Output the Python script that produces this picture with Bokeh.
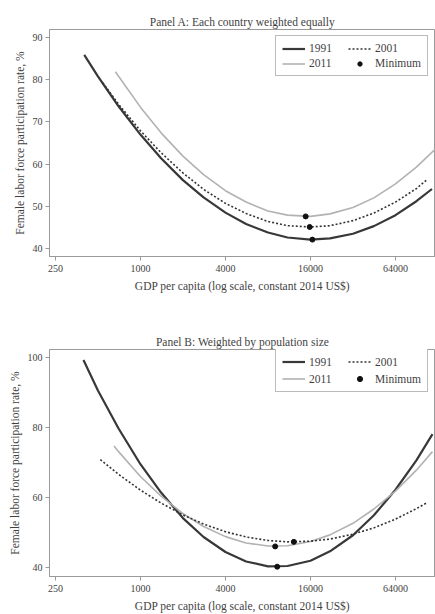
from bokeh.plotting import figure
from bokeh.layouts import column
from bokeh.models import (FixedTicker, CustomJSTickFormatter, Legend, LegendItem, Range1d)
from bokeh.embed import file_html
from bokeh.resources import INLINE

# ---------------- data ----------------
x_ticks = [250, 1000, 4000, 16000, 64000]
ya_ticks = [40, 50, 60, 70, 80, 90]
yb_ticks = [40, 60, 80, 100]

# Panel A: each country weighted equally
a_1991_x = [400, 500, 700, 1000, 1400, 2000, 2800, 4000, 5600, 8000, 11000, 16000, 22000, 32000, 45000, 64000, 90000, 116000]
a_1991_y = [85.9, 80.8, 73.7, 67.0, 61.4, 56.2, 52.1, 48.5, 45.8, 43.8, 42.6, 42.1, 42.4, 43.5, 45.3, 47.9, 51.2, 54.1]
a_2001_x = [540, 700, 1000, 1400, 2000, 2800, 4000, 5600, 8000, 11000, 16000, 22000, 32000, 45000, 64000, 90000, 107000]
a_2001_y = [79.3, 74.2, 67.9, 62.7, 57.9, 54.0, 50.7, 48.3, 46.4, 45.4, 45.1, 45.4, 46.6, 48.4, 51.0, 54.2, 56.3]
a_2011_x = [665, 700, 1000, 1400, 2000, 2800, 4000, 5600, 8000, 11000, 16000, 22000, 32000, 45000, 64000, 90000, 122000]
a_2011_y = [81.9, 80.8, 73.5, 67.4, 61.9, 57.5, 53.7, 51.0, 48.9, 47.9, 47.6, 48.2, 49.7, 52.0, 55.3, 59.3, 63.5]
a_min_x = [16500, 15800, 14800]
a_min_y = [42.1, 45.1, 47.6]

# Panel B: weighted by population size
b_1991_x = [395, 500, 700, 1000, 1400, 2000, 2800, 4000, 5600, 8000, 11000, 16000, 22000, 32000, 45000, 64000, 90000, 117000]
b_1991_y = [99.2, 90.5, 79.6, 69.4, 61.3, 54.0, 48.6, 44.3, 41.6, 40.2, 40.3, 41.8, 44.5, 49.1, 54.8, 62.1, 70.5, 78.0]
b_2001_x = [520, 700, 1000, 1400, 2000, 2800, 4000, 5600, 8000, 11000, 16000, 22000, 32000, 45000, 64000, 90000, 107000]
b_2001_y = [70.7, 66.5, 62.0, 58.3, 54.9, 52.3, 50.1, 48.6, 47.6, 47.2, 47.4, 48.0, 49.4, 51.2, 53.7, 56.7, 58.4]
b_2011_x = [650, 700, 1000, 1400, 2000, 2800, 4000, 5600, 8000, 11000, 16000, 22000, 32000, 45000, 64000, 90000, 117000]
b_2011_y = [74.6, 73.0, 65.9, 60.3, 55.3, 51.6, 48.7, 46.9, 46.0, 46.1, 47.3, 49.2, 52.5, 56.6, 61.7, 67.7, 73.0]
b_min_x = [9300, 12200, 9000]
b_min_y = [40.1, 47.2, 45.9]

FONT = "Liberation Serif"
TXT = "#3f3f3f"
AX = "#9a9a9a"
C1991 = "#383838"
C2001 = "#333333"
C2011 = "#b2b2b2"


def make_panel(title, xr, yr, yticks, s1991, s2001, s2011, smin, height, top, bottom,
               legend_bottom, lab_h, lab_sp):
    p = figure(width=435, height=height, x_axis_type="log", output_backend="svg",
               toolbar_location=None, x_range=Range1d(*xr), y_range=Range1d(*yr),
               min_border_left=49, min_border_right=0, min_border_top=top,
               min_border_bottom=bottom)
    p.title.text = title
    p.title.align = "center"
    p.title.text_font = FONT
    p.title.text_font_style = "normal"
    p.title.text_font_size = "11.5px"
    p.title.text_color = TXT
    p.title.standoff = 4
    p.grid.visible = False
    p.outline_line_color = AX
    p.outline_line_width = 1

    for ax in (p.xaxis[0], p.yaxis[0]):
        ax.axis_line_color = AX
        ax.major_tick_line_color = AX
        ax.minor_tick_line_color = None
        ax.major_tick_in = 0
        ax.major_tick_out = 4
        ax.major_label_text_font = FONT
        ax.major_label_text_font_size = "10px"
        ax.major_label_text_color = TXT
        ax.axis_label_text_font = FONT
        ax.axis_label_text_font_style = "normal"
        ax.axis_label_text_color = TXT
        ax.axis_label_text_font_size = "11.5px"
    p.xaxis.major_label_standoff = 4
    p.xaxis.axis_label_standoff = 5
    p.yaxis.major_label_standoff = 3
    p.yaxis.axis_label_standoff = 4
    p.xaxis.ticker = FixedTicker(ticks=x_ticks)
    p.xaxis.formatter = CustomJSTickFormatter(code="return Math.round(tick).toString()")
    p.yaxis.ticker = FixedTicker(ticks=yticks)
    p.xaxis.axis_label = "GDP per capita (log scale, constant 2014 US$)"
    p.yaxis.axis_label = "Female labor force participation rate, %"

    r1 = p.line(s1991[0], s1991[1], line_color=C1991, line_width=2.2)
    r3 = p.line(s2011[0], s2011[1], line_color=C2011, line_width=1.6)
    r2 = p.line(s2001[0], s2001[1], line_color=C2001, line_width=1.6, line_dash="2 2")
    rm = p.scatter(smin[0], smin[1], size=5, fill_color="#111111", line_color="#111111")

    leg = Legend(items=[LegendItem(label="1991", renderers=[r1]),
                        LegendItem(label="2011", renderers=[r3]),
                        LegendItem(label="2001", renderers=[r2]),
                        LegendItem(label="Minimum", renderers=[rm])],
                 ncols=2, location=(226, legend_bottom))
    leg.label_text_font = FONT
    leg.label_text_font_size = "11.5px"
    leg.label_text_color = TXT
    leg.label_height = lab_h
    leg.label_width = 39 - lab_sp
    leg.label_standoff = 4
    leg.glyph_width = 23
    leg.glyph_height = lab_h
    leg.spacing = lab_sp
    leg.padding = 6
    leg.margin = 0
    leg.border_line_color = "#7a7a7a"
    leg.border_line_width = 1
    leg.background_fill_alpha = 1
    p.add_layout(leg)
    return p


pa = make_panel("Panel A: Each country weighted equally", (227, 122900), (38.1, 91.9), ya_ticks,
                (a_1991_x, a_1991_y), (a_2001_x, a_2001_y), (a_2011_x, a_2011_y), (a_min_x, a_min_y),
                height=300, top=29, bottom=44, legend_bottom=180, lab_h=11, lab_sp=3)
pb = make_panel("Panel B: Weighted by population size", (227, 122900), (37.3, 102.2), yb_ticks,
                (b_1991_x, b_1991_y), (b_2001_x, b_2001_y), (b_2011_x, b_2011_y), (b_min_x, b_min_y),
                height=314, top=49, bottom=38, legend_bottom=184, lab_h=13, lab_sp=4)

layout = column(pa, pb, spacing=0)
open("out.html", "w").write(file_html(layout, INLINE))
